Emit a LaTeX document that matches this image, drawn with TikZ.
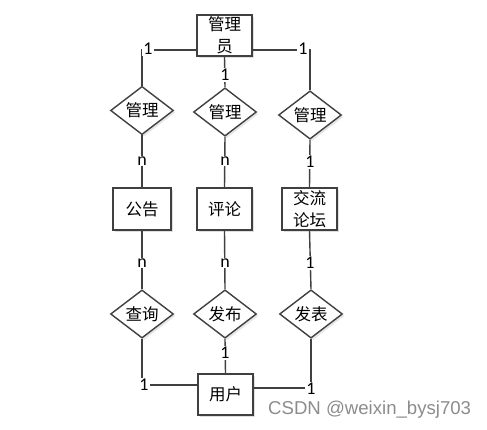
\documentclass[tikz,border=0pt]{standalone}
\usepackage{fontspec}
\newfontfamily\cjk{Noto Sans CJK SC}
\newfontfamily\numf{Carlito}
\newfontfamily\wmf{Liberation Sans}
\usetikzlibrary{shapes.geometric,shadows}
\definecolor{ln}{HTML}{404040}
\begin{document}
\begin{tikzpicture}[x=1pt,y=-1pt,
  ent/.style={draw=ln,line width=1.4pt,fill=white,minimum width=55pt,minimum height=41pt,inner sep=1pt,align=center,
    font=\cjk\fontsize{16.5}{22}\selectfont,drop shadow={opacity=0.25,shadow xshift=2pt,shadow yshift=-2pt}},
  rel/.style={diamond,draw=ln,line width=1.4pt,fill=white,minimum width=63pt,minimum height=37pt,inner sep=0pt,
    font=\cjk\fontsize{16.5}{20}\selectfont,drop shadow={opacity=0.2,shadow xshift=2pt,shadow yshift=-2pt}},
  conn/.style={draw=ln,line width=1.4pt},
  card/.style={fill=white,inner sep=1pt,font=\numf\fontsize{18}{18}\selectfont}]
\useasboundingbox (0,0) rectangle (487,430);
% entities
\node[ent] (admin) at (224.5,35.5) {管理\\员};
\node[ent,minimum width=58pt,minimum height=42pt] (gg) at (142,209) {公告};
\node[ent,minimum height=42pt] (pl) at (224.5,209) {评论};
\node[ent,minimum height=42pt] (lt) at (309.5,209) {交流\\论坛};
\node[ent] (user) at (225.5,394.5) {用户};
% relations
\node[rel] (m1) at (142,110.5) {管理};
\node[rel] (m2) at (225,112) {管理};
\node[rel] (m3) at (310,115) {管理};
\node[rel] (q1) at (142,314) {查询};
\node[rel] (q2) at (225,314) {发布};
\node[rel] (q3) at (311,314) {发表};
% corner coordinates
\coordinate (a1) at (142,50);
\coordinate (a3) at (310,50);
\coordinate (u1) at (142,385);
\coordinate (u3) at (311,388);
% connectors
\draw[conn] (admin.west |- a1) -- (a1) -- (m1.north);
\draw[conn] (admin.east |- a3) -- (a3) -- (m3.north);
\draw[conn] (admin.south) -- (m2.north);
\draw[conn] (m1.south) -- (gg.north);
\draw[conn] (m2.south) -- (pl.north);
\draw[conn] (m3.south) -- (lt.north);
\draw[conn] (gg.south) -- (q1.north);
\draw[conn] (pl.south) -- (q2.north);
\draw[conn] (lt.south) -- (q3.north);
\draw[conn] (q1.south) -- (u1) -- (user.west |- u1);
\draw[conn] (q3.south) -- (u3) -- (user.east |- u3);
\draw[conn] (q2.south) -- (user.north);
% cardinalities
\node[card] (c1) at (148,49) {1};
\node[card] (c2) at (303,49) {1};
\node[card] (c3) at (225,75) {1};
\node[card] (c4) at (142,161) {n};
\node[card] (c5) at (225,161) {n};
\node[card] (c6) at (310,162) {1};
\node[card] (c7) at (142,263) {n};
\node[card] (c8) at (225,263) {n};
\node[card] (c9) at (310,263) {1};
\node[card] (c10) at (225,353) {1};
\node[card] (c11) at (144,385) {1};
\node[card] (c12) at (311,389) {1};
% watermark
\node[anchor=west,inner sep=0pt,text=black!45,font=\wmf\fontsize{18.6}{18.6}\selectfont] (wm) at (268,410) {CSDN @weixin\_bysj703};
\end{tikzpicture}
\end{document}
